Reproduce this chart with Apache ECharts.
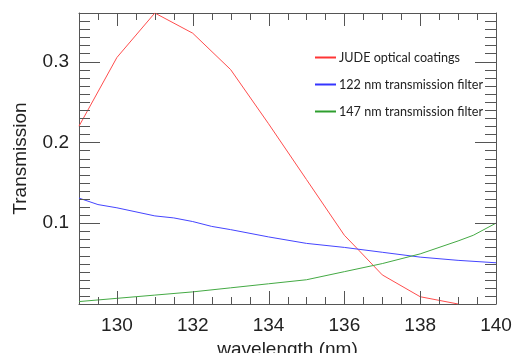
<!DOCTYPE html>
<html><head><meta charset="utf-8">
<script src="https://cdn.jsdelivr.net/npm/echarts@6/dist/echarts.min.js"></script>
<style>html,body{margin:0;padding:0;background:#fff}#c{width:513px;height:353px}</style>
</head><body><div id="c"></div>
<script>
const wavelengthRed = [129, 130, 131, 132, 133, 134, 135, 136, 136.33, 137, 138, 139];
const judeCoatings = [0.22, 0.305, 0.36, 0.335, 0.29, 0.223, 0.154, 0.085, 0.069, 0.036, 0.009, 0.0];
const wavelengthBlue = [129, 129.5, 130, 131, 131.5, 132, 132.5, 133, 134, 135, 136, 137, 138, 139, 140];
const filter122 = [0.131, 0.123, 0.119, 0.109, 0.1065, 0.102, 0.096, 0.092, 0.083, 0.075, 0.070, 0.064, 0.058, 0.054, 0.051];
const wavelengthGreen = [129, 130, 131, 132, 133, 134, 135, 136, 137, 138, 139, 139.4, 140];
const filter147 = [0.003, 0.007, 0.011, 0.015, 0.020, 0.025, 0.030, 0.040, 0.050, 0.062, 0.078, 0.085, 0.100];
const seriesNames = ['JUDE optical coatings', '122 nm transmission filter', '147 nm transmission filter'];
const xLabels = [130, 132, 134, 136, 138, 140];
const yLabels = [0.1, 0.2, 0.3];

const X_MIN = 129, X_MAX = 140, Y_MIN = 0, Y_MAX = 0.36;
const X_MINOR_STEP = 0.5, Y_MINOR_STEP = 0.01;
const zip = (xs, ys) => xs.map((x, i) => [x, ys[i]]);
const axisColor = '#555';
const font = 'Liberation Sans, Arial, sans-serif';
const textStyle = { fontSize: 19, color: '#222', fontFamily: font };

const tickData = [];
const near = (a, b) => Math.abs(a - b) < 1e-6;
for (let i = 1; X_MIN + i * X_MINOR_STEP < X_MAX - 1e-9; i++) {
  const v = Math.round((X_MIN + i * X_MINOR_STEP) * 100) / 100;
  const major = xLabels.some(l => near(l, v));
  tickData.push([v, 0, major ? 1 : 0], [v, 1, major ? 1 : 0]);
}
for (let i = 1; Y_MIN + i * Y_MINOR_STEP < Y_MAX - 1e-9; i++) {
  const v = Math.round((Y_MIN + i * Y_MINOR_STEP) * 1000) / 1000;
  const major = yLabels.some(l => near(l, v));
  tickData.push([v, 2, major ? 1 : 0], [v, 3, major ? 1 : 0]);
}
const TICK_LEN = { x: [7, 13], y: [11, 21] };
const crisp = p => Math.round(p) + 0.5;

function renderTick(params, api) {
  const v = api.value(0), side = api.value(1), kind = api.value(2);
  let shape;
  if (side === 0) { const p = api.coord([v, Y_MIN]); const x = crisp(p[0]); shape = { x1: x, y1: p[1], x2: x, y2: p[1] - TICK_LEN.x[kind] }; }
  else if (side === 1) { const p = api.coord([v, Y_MAX]); const x = crisp(p[0]); shape = { x1: x, y1: p[1], x2: x, y2: p[1] + TICK_LEN.x[kind] }; }
  else if (side === 2) { const p = api.coord([X_MIN, v]); const y = crisp(p[1]); shape = { x1: p[0], y1: y, x2: p[0] + TICK_LEN.y[kind], y2: y }; }
  else { const p = api.coord([X_MAX, v]); const y = crisp(p[1]); shape = { x1: p[0], y1: y, x2: p[0] - TICK_LEN.y[kind], y2: y }; }
  return { type: 'line', shape: shape, style: { stroke: axisColor, lineWidth: 1 } };
}

function lineOpt() { return { show: true, onZero: false, lineStyle: { color: axisColor, width: 1 } }; }

const chart = echarts.init(document.getElementById('c'), null, { renderer: 'canvas' });
chart.setOption({
  animation: false,
  backgroundColor: '#fff',
  grid: { left: 79, right: 17, top: 13, bottom: 49, containLabel: false, outerBoundsMode: 'none' },
  xAxis: [
    { type: 'value', position: 'bottom', min: X_MIN, max: X_MAX, axisLine: lineOpt(), axisTick: { show: false },
      axisLabel: Object.assign({ show: true, customValues: xLabels, margin: 12 }, textStyle),
      splitLine: { show: false },
      name: 'wavelength (nm)', nameLocation: 'middle', nameGap: 34, nameTextStyle: Object.assign({}, textStyle) },
    { type: 'value', position: 'top', min: X_MIN, max: X_MAX, axisLine: lineOpt(), axisTick: { show: false },
      axisLabel: { show: false }, splitLine: { show: false } }
  ],
  yAxis: [
    { type: 'value', position: 'left', min: Y_MIN, max: Y_MAX, axisLine: lineOpt(), axisTick: { show: false },
      axisLabel: Object.assign({ show: true, customValues: yLabels, margin: 10, formatter: v => v.toFixed(1) }, textStyle),
      splitLine: { show: false },
      name: 'Transmission', nameLocation: 'middle', nameGap: 49, nameTextStyle: Object.assign({}, textStyle) },
    { type: 'value', position: 'right', min: Y_MIN, max: Y_MAX, axisLine: lineOpt(), axisTick: { show: false },
      axisLabel: { show: false }, splitLine: { show: false } }
  ],
  legend: {
    orient: 'vertical', left: 310, top: 46,
    itemWidth: 21, itemHeight: 2, itemGap: 14, icon: 'rect',
    textStyle: { fontFamily: 'Lato, sans-serif', fontSize: 12.6, color: '#222', padding: [0, 0, 0, -2] },
    data: seriesNames
  },
  series: [
    { name: seriesNames[0], type: 'line', data: zip(wavelengthRed, judeCoatings), color: '#ff3535', symbol: 'none', lineStyle: { width: 1, color: '#ff4d4d' } },
    { name: seriesNames[1], type: 'line', data: zip(wavelengthBlue, filter122), color: '#3535ff', symbol: 'none', lineStyle: { width: 1, color: '#4545ff' } },
    { name: seriesNames[2], type: 'line', data: zip(wavelengthGreen, filter147), color: '#2e9e2e', symbol: 'none', lineStyle: { width: 1, color: '#44aa44' } },
    { type: 'custom', silent: true, clip: false, renderItem: renderTick, data: tickData, z: 5 }
  ]
});
</script></body></html>
